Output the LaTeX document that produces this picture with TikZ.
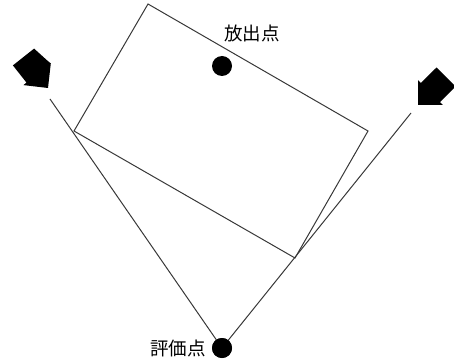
\documentclass[tikz,border=0pt]{standalone}
\usepackage{fontspec}
\newfontfamily\cjk{Noto Sans CJK JP}
\begin{document}
\begin{tikzpicture}[x=1pt,y=-1pt,
  thinline/.style={draw=black!78,line width=1pt,line join=miter},
  dot/.style={circle,fill=black,inner sep=0pt,minimum size=20pt},
  lbl/.style={font=\cjk\fontsize{18.5}{22}\selectfont,inner sep=0pt},
  blockarrow/.style={fill=black}]
\useasboundingbox (0,0) rectangle (454,363);
\clip (0,0) rectangle (454,363);
% rectangle corners
\coordinate (T) at (148,4);
\coordinate (R) at (368,131);
\coordinate (B) at (295,258);
\coordinate (L) at (74,131);
% ray ends
\coordinate (lend) at (50,99);
\coordinate (rend) at (411,113);
% nodes
\node[dot] (eval) at (222,348) {};
\node[dot] (emit) at (222,66) {};
\node[lbl,anchor=east] (evallbl) at (206,348) {評価点};
\node[lbl] (emitlbl) at (252,33) {放出点};
% rectangle
\draw[thinline] (T) -- (R) -- (B) -- (L) -- cycle;
% rays
\draw[thinline] (eval.center) -- (lend);
\draw[thinline] (eval.center) -- (rend);
\node[dot] at (eval) {};
% block arrows
\fill[blockarrow] (12.9,65.4) -- (26.5,82.6) -- (23.4,85.1) -- (48,88) -- (50.8,63.4) -- (47.7,60.9) -- (34.1,48.6) -- cycle;
\fill[blockarrow] (455.5,86.5) -- (440,102.1) -- (442.8,104.9) -- (418.1,104.9) -- (418.1,80.2) -- (420.9,83) -- (436.5,67.5) -- cycle;
\end{tikzpicture}
\end{document}
